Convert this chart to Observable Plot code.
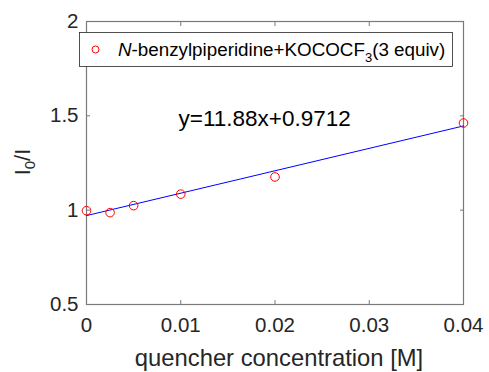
<!DOCTYPE html>
<html>
<head>
<meta charset="utf-8">
<script src="https://cdn.jsdelivr.net/npm/d3@7"></script>
<script src="https://cdn.jsdelivr.net/npm/@observablehq/plot@0.6"></script>
<style>
  html, body { margin: 0; padding: 0; background: #fff; }
  #chart svg { display: block; }
</style>
</head>
<body>
<div id="chart"></div>
<script>
const concentrations = [0, 0.0025, 0.005, 0.01, 0.02, 0.04];
const ratios = [0.997, 0.987, 1.024, 1.085, 1.176, 1.462];
const fitSlope = 11.88;
const fitIntercept = 0.9712;
const fitRange = [0, 0.04];
const xTicks = [0, 0.01, 0.02, 0.03, 0.04];
const yTicks = [0.5, 1, 1.5, 2];
const equationLabel = ["y=11.88x+0.9712"];
const equationPos = {x: 0.0189, y: 1.486};
const seriesName = "benzylpiperidine+KOCOCF";

const points = concentrations.map((c, i) => ({x: c, y: ratios[i]}));
const fitLine = fitRange.map(x => ({x, y: fitSlope * x + fitIntercept}));

const font = "'Liberation Sans', Arial, Helvetica, sans-serif";
const textColor = "#262626";
const axisColor = "#7a7a7a";

const W = 489, H = 372;
const chart = Plot.plot({
  width: W,
  height: H,
  marginLeft: 86,
  marginRight: 26,
  marginTop: 21,
  marginBottom: 68,
  style: {fontFamily: font, color: textColor, background: "#fff"},
  x: {domain: [0, 0.04]},
  y: {domain: [0.5, 2]},
  marks: [
    Plot.axisX({ticks: xTicks, tickSize: 0, tickPadding: 13, fontSize: 20.5, label: null, tickFormat: d => String(d)}),
    Plot.axisY({ticks: yTicks, tickSize: 0, tickPadding: 8, fontSize: 20.5, label: null, tickFormat: d => String(d)}),
    Plot.axisX({ticks: xTicks, anchor: "bottom", tickSize: -4, text: null, label: null, stroke: axisColor}),
    Plot.axisX({ticks: xTicks, anchor: "top", tickSize: -4, text: null, label: null, stroke: axisColor}),
    Plot.axisY({ticks: yTicks, anchor: "left", tickSize: -4, text: null, label: null, stroke: axisColor}),
    Plot.axisY({ticks: yTicks, anchor: "right", tickSize: -4, text: null, label: null, stroke: axisColor}),
    Plot.frame({stroke: axisColor, strokeWidth: 1.2}),
    Plot.line(fitLine, {x: "x", y: "y", stroke: "#0000ff", strokeWidth: 1}),
    Plot.dot(points, {x: "x", y: "y", r: 4.3, stroke: "#ff0000", strokeWidth: 1, fill: "none"}),
    Plot.text(equationLabel, {x: () => equationPos.x, y: () => equationPos.y, text: d => d, fontSize: 22.5, fill: "#000", textAnchor: "middle"})
  ]
});

const svg = d3.select(chart);
svg.selectAll("g[aria-label='x-axis tick label'] text, g[aria-label='y-axis tick label'] text").attr("fill", textColor);

// x-axis label
svg.append("text")
  .attr("x", 279).attr("y", 366)
  .attr("text-anchor", "middle")
  .attr("font-size", 23.8).attr("font-family", font).attr("fill", textColor)
  .text("quencher concentration [M]");

// y-axis label I0/I
const yl = svg.append("text")
  .attr("transform", "translate(30,162) rotate(-90)")
  .attr("text-anchor", "middle")
  .attr("font-size", 22).attr("font-family", font).attr("fill", textColor);
yl.append("tspan").text("I");
yl.append("tspan").attr("font-size", 15).attr("dy", 5).text("0");
yl.append("tspan").attr("dy", -5).text("/I");

// legend
const lg = svg.append("g");
lg.append("rect").attr("x", 79.5).attr("y", 32.5).attr("width", 373).attr("height", 34)
  .attr("fill", "#fff").attr("stroke", "#262626").attr("stroke-width", 0.8);
lg.append("circle").attr("cx", 95.5).attr("cy", 49.5).attr("r", 3.5)
  .attr("fill", "none").attr("stroke", "#ff0000").attr("stroke-width", 1);
const lt = lg.append("text").attr("x", 118).attr("y", 56)
  .attr("text-anchor", "start")
  .attr("font-size", 18.8).attr("font-family", font).attr("fill", "#000");
lt.append("tspan").attr("font-style", "italic").text("N");
lt.append("tspan").text("-" + seriesName);
lt.append("tspan").attr("font-size", 13).attr("dy", 6).text("3");
lt.append("tspan").attr("dy", -6).text("(3 equiv)");

document.getElementById("chart").appendChild(chart);
</script>
</body>
</html>
